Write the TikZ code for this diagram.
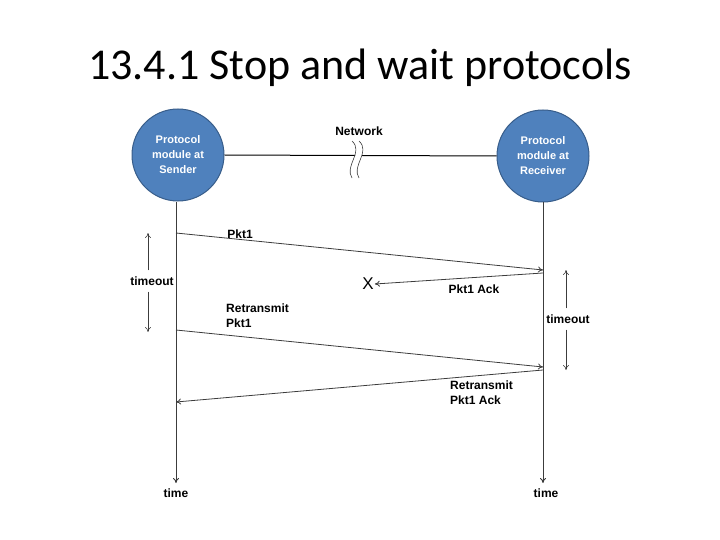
\documentclass[tikz,border=0pt]{standalone}
\usepackage{fontspec}
\setmainfont{Liberation Sans}
\newfontfamily\titlefont{Carlito}
\usetikzlibrary{arrows.meta}
\definecolor{modfill}{RGB}{79,129,189}
\definecolor{modedge}{RGB}{56,93,138}
\definecolor{lineclr}{RGB}{60,60,60}
\tikzset{
  module/.style={circle, fill=modfill, draw=modedge, line width=1pt, minimum size=92pt, inner sep=0pt,
    text=white, align=center, font=\fontsize{11}{15}\selectfont\bfseries},
  lbl/.style={font=\fontsize{12}{14.5}\selectfont\bfseries, inner sep=0pt},
  msg/.style={->, draw=lineclr, line width=0.8pt},
  tline/.style={->, draw=lineclr, line width=1pt},
}
\begin{document}
\begin{tikzpicture}[x=1pt, y=-1pt, >={To[length=5pt,width=6pt]}]
  \useasboundingbox (0,0) rectangle (720,540);
  % ==================== 标题 ====================
  \node[font=\titlefont\fontsize{44}{48}\selectfont] (title) at (360,68) {13.4.1 Stop and wait protocols};

  % ==================== 两端协议模块 ====================
  \node[module] (snd) at (178,155) {Protocol\\module at\\Sender};
  \node[module] (rcv) at (543,156) {Protocol\\module at\\Receiver};

  % 网络线，中间断开
  \coordinate (brkL) at (355,155.5);
  \coordinate (brkR) at (362,155.5);
  \draw[black, line width=1pt] (snd.east) -- (brkL);
  \draw[black, line width=1pt] (brkR) -- (rcv.west);
  \draw[lineclr, line width=0.6pt] (352,141) .. controls (364,152) and (344,166) .. (352,178);
  \draw[lineclr, line width=0.6pt] (359,141) .. controls (371,152) and (351,166) .. (359,178);
  \node[lbl] (net) at (359,131) {Network};

  % ==================== 时间轴 ====================
  \coordinate (sTop) at (176,202);
  \coordinate (sEnd) at (176,483);
  \coordinate (rTop) at (543,202);
  \coordinate (rEnd) at (543,483);
  \draw[tline] (sTop) -- (sEnd) node[lbl, below=5pt] (stime) {time};
  \draw[tline] (rTop) -- (rEnd) node[lbl, below=5pt, xshift=3pt] (rtime) {time};

  % ==================== 报文 ====================
  \coordinate (p1s) at (176,233);
  \coordinate (p1r) at (543,270);
  \coordinate (a1r) at (543,273);
  \coordinate (p2s) at (176,330);
  \coordinate (p2r) at (543,367);
  \coordinate (a2r) at (543,370);
  \coordinate (a2s) at (176,402);

  \draw[msg] (p1s) -- (p1r);
  \node[lbl] (pkt1) at (240,234) {Pkt1};

  % 确认丢失
  \node[font=\fontsize{17}{17}\selectfont, inner sep=1pt] (lost) at (368,284) {X};
  \draw[msg] (a1r) -- (lost.east);
  \node[lbl] (ack1) at (474,289) {Pkt1 Ack};

  % 重传
  \node[lbl, align=left, anchor=north west] (re1) at (226,304) {Retransmit\\Pkt1};
  \draw[msg] (p2s) -- (p2r);
  \draw[msg] (a2r) -- (a2s);
  \node[lbl, align=left, anchor=north west] (re2) at (450,381) {Retransmit\\Pkt1 Ack};

  % ==================== 超时 ====================
  \node[lbl] (sto) at (152,281) {timeout};
  \draw[->, lineclr, line width=0.6pt] (sto.north -| 148,0) ++(0,-6) -- (148,233);
  \draw[->, lineclr, line width=0.6pt] (sto.south -| 148,0) ++(0,6) -- (148,332);
  \node[lbl] (rto) at (568,319) {timeout};
  \draw[->, lineclr, line width=0.6pt] (rto.north -| 566,0) ++(0,-6) -- (566,270);
  \draw[->, lineclr, line width=0.6pt] (rto.south -| 566,0) ++(0,6) -- (566,370);
\end{tikzpicture}
\end{document}
